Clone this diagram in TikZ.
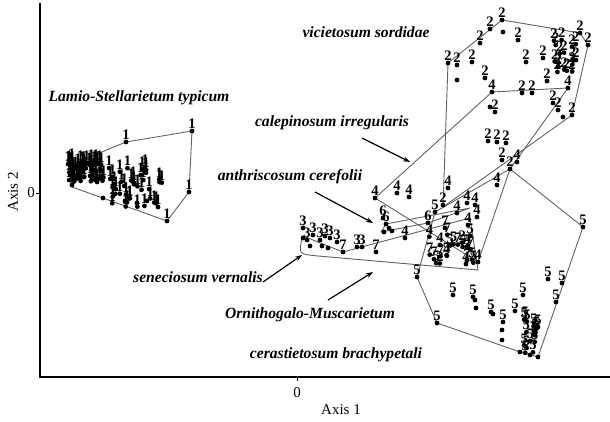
\documentclass[tikz,border=0pt]{standalone}
\usepackage{fontspec}
\setmainfont{Liberation Serif}
\usetikzlibrary{arrows.meta}
\tikzset{
  num/.style={font=\fontsize{14.5}{15}\selectfont\bfseries, inner sep=0pt, anchor=south},
  lab/.style={font=\fontsize{15.6}{16}\selectfont\bfseries\itshape, inner sep=0pt},
  axlab/.style={font=\fontsize{15}{16}\selectfont, inner sep=0pt},
  hull/.style={draw=black!62, line width=0.9pt, line join=round},
  axisline/.style={line width=1.5pt},
  pointer/.style={-{Stealth[length=7pt,width=5pt]}, line width=1.2pt},
}
\newcommand\pdot[3]{\fill (#1,#2) circle (2.4pt); \node[num] at ({#1},{#2-2}) {#3};}
\begin{document}
\begin{tikzpicture}[x=1pt,y=-1pt]
\useasboundingbox (0,0) rectangle (610,422);
% axes
\draw[axisline] (40,3) -- (40,377) -- (610,377);
\draw[line width=0.6pt] (297,377) -- (297,381);
\draw[line width=0.6pt] (36,193) -- (40,193);
\node[axlab] (x0) at (297,393) {0};
\node[axlab] (xl) at (341,410) {Axis 1};
\node[axlab] (y0) at (31,193) {0};
\node[axlab,rotate=90] (yl) at (13,192) {Axis 2};
% hulls
\draw[hull] (70,165)--(126,142)--(192,131)--(189,192)--(167,221)--(72,187)--cycle;
\draw[hull] (448,63)--(502,20)--(580,33)--(588,45)--(572,115)--(443,207)--cycle;
\draw[hull] (375,198)--(492,92)--(568,88)--(510,169)--(478,262)--cycle;
\draw[hull] (435,212)--(510,169)--(583,227)--(538,357)--(520,352)--(437,323)--(417,277)--cycle;
\draw[hull] (381,232)--(428,223)--(470,208)--(386,224)--cycle;
\draw[hull] (343,252)--(303,236) .. controls (298,254) .. (318,256) -- (478,270) -- (470,218) -- cycle;
% group 1
\pgfmathsetseed{7}
\foreach \i in {1,...,55}{\pgfmathsetmacro\px{68+36*rnd}\pgfmathsetmacro\py{160+22*rnd}\pdot{\px}{\py}{1}}
\foreach \i in {1,...,40}{\pgfmathsetmacro\px{108+58*rnd}\pgfmathsetmacro\py{166+42*rnd}\pdot{\px}{\py}{1}}
\foreach \p/\q/\l in {126/142/1,192/131/1,189/192/1,167/221/1,103/198/,125/201/,137/203/,147/201/,158/207/1,72/185/}{\pdot{\p}{\q}{\l}}
% group 2
\foreach \p/\q/\l in {490/29/2,502/20/2,503/32/,480/43/2,518/40/2,526/62/2,543/58/2,547/81/2,485/78/2,448/63/2,457/65/2,457/80/,472/62/2,576/60/2,588/45/2,580/33/2,495/112/2,490/107/,522/93/2,532/93/2,553/103/2,558/110/2,563/117/,572/115/2,488/141/2,497/142/2,506/143/2,443/205/2,502/160/2,510/169/2}{\pdot{\p}{\q}{\l}}
\foreach \i in {1,...,16}{\pgfmathsetmacro\px{554+22*rnd}\pgfmathsetmacro\py{36+36*rnd}\pdot{\px}{\py}{2}}
% group 4
\foreach \p/\q/\l in {375/198/4,397/193/4,409/197/4,448/188/4,467/203/4,475/205/4,457/213/4,468/225/4,477/217/4,497/185/4,492/92/4,568/88/4,405/238/4,478/262/4,517/162/4}{\pdot{\p}{\q}{\l}}
% group 5
\foreach \p/\q/\l in {417/277/5,453/295/5,473/297/5,475/300/,476/308/,491/312/5,493/314/,503/322/5,502/330/,502/340/,515/311/5,523/295/5,548/279/5,562/283/5,556/302/5,437/323/5,583/227/5,435/212/5,467/247/5,520/352/,530/355/,538/357/}{\pdot{\p}{\q}{\l}}
\foreach \i in {1,...,16}{\pgfmathsetmacro\px{522+18*rnd}\pgfmathsetmacro\py{318+36*rnd}\pdot{\px}{\py}{5}}
% groups 3, 7, 6
\foreach \p/\q/\l in {303/228/3,303/238/,307/240/3,313/235/3,320/240/3,325/236/3,330/238/3,337/242/3,322/246/,310/246/,328/248/,343/252/7,357/247/3,362/247/3,376/252/7,445/228/7}{\pdot{\p}{\q}{\l}}
\foreach \p/\q/\l in {383/218/6,386/224/6,389/228/,384/232/,392/231/,428/223/6}{\pdot{\p}{\q}{\l}}
\foreach \l in {5,7,4,5,7,2,5,7,4,5,7,5,4,7,5,2,7,5,4,7,5,4}{\pgfmathsetmacro\px{427+48*rnd}\pgfmathsetmacro\py{233+33*rnd}\pdot{\px}{\py}{\l}}
% labels
\node[lab] (t2) at (366,32) {vicietosum sordidae};
\node[lab] (t1) at (139,98) {Lamio-Stellarietum typicum};
\node[lab] (t4) at (332,123) {calepinosum irregularis};
\node[lab] (t6) at (290,177) {anthriscosum cerefolii};
\node[lab] (t3) at (198,277) {seneciosum vernalis};
\node[lab] (t7) at (310,315) {Ornithogalo-Muscarietum};
\node[lab] (t5) at (336,355) {cerastietosum brachypetali};
% arrows
\coordinate (a4s) at (362,138); \coordinate (a4e) at (410,162);
\coordinate (a6s) at (315,192); \coordinate (a6e) at (373,223);
\coordinate (a3s) at (263,282); \coordinate (a3e) at (302,255);
\coordinate (a7s) at (328,300); \coordinate (a7e) at (373,272);
\draw[pointer] (a4s) -- (a4e);
\draw[pointer] (a6s) -- (a6e);
\draw[pointer] (a3s) -- (a3e);
\draw[pointer] (a7s) -- (a7e);
\end{tikzpicture}
\end{document}
